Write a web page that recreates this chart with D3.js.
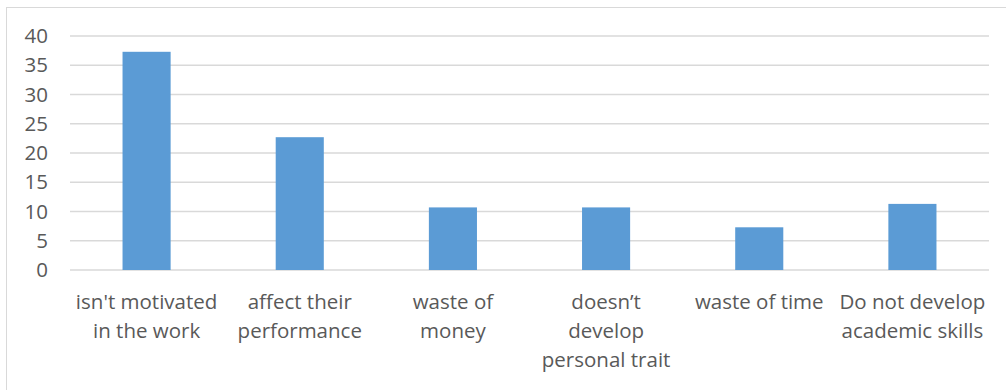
<!DOCTYPE html>
<html><head><meta charset="utf-8">
<script src="https://cdn.jsdelivr.net/npm/d3@7"></script>
<style>html,body{margin:0;padding:0;background:#fff;overflow:hidden}</style>
</head><body>
<svg id="chart" width="1006" height="390"></svg>
<script>
const categories = [
  ["isn't motivated", "in the work"],
  ["affect their", "performance"],
  ["waste of", "money"],
  ["doesn\u2019t", "develop", "personal trait"],
  ["waste of time"],
  ["Do not develop", "academic skills"]
];
const values = [37.3, 22.7, 10.7, 10.7, 7.3, 11.3];
const yTicks = [0, 5, 10, 15, 20, 25, 30, 35, 40];

const svg = d3.select("#chart");
const font = "'Open Sans', sans-serif";
const fontSize = 20.5;
const textColor = "#595959";
const plot = {left: 70, right: 989, top: 36, bottom: 270};

svg.append("rect").attr("x", 6.5).attr("y", 7.5).attr("width", 1020).attr("height", 420)
  .attr("fill", "none").attr("stroke", "#d9d9d9").attr("stroke-width", 1);

const ids = categories.map((c, i) => i);
const x = d3.scaleBand().domain(ids).range([plot.left, plot.right]).paddingInner(0.686).paddingOuter(0.343);
const y = d3.scaleLinear().domain([0, 40]).range([plot.bottom, plot.top]);

// gridlines
svg.append("g").selectAll("line").data(yTicks).join("line")
  .attr("x1", plot.left).attr("x2", plot.right)
  .attr("y1", d => y(d)).attr("y2", d => y(d))
  .attr("stroke", "#d9d9d9").attr("stroke-width", 1.5);

// y axis labels
const yAxis = d3.axisLeft(y).tickValues(yTicks).tickSize(0).tickPadding(0).tickFormat(d3.format("d"));
const yg = svg.append("g").attr("transform", `translate(${plot.left - 22},0)`).call(yAxis);
yg.select(".domain").remove();
yg.selectAll("text").attr("font-family", font).attr("font-size", fontSize).attr("fill", textColor);

// bars
svg.append("g").selectAll("rect").data(values).join("rect")
  .attr("x", (d, i) => x(i)).attr("width", x.bandwidth())
  .attr("y", d => y(d)).attr("height", d => y(0) - y(d))
  .attr("fill", "#5b9bd5");

// x labels
const xAxis = d3.axisBottom(x).tickSize(0).tickPadding(0).tickFormat(() => "");
const xg = svg.append("g").attr("transform", `translate(0,${plot.bottom})`).call(xAxis);
xg.select(".domain").remove();
xg.selectAll(".tick").each(function(i) {
  const t = d3.select(this).append("text")
    .attr("text-anchor", "middle").attr("font-family", font).attr("font-size", fontSize).attr("fill", textColor);
  categories[i].forEach((line, k) => {
    t.append("tspan").attr("x", 0).attr("y", 39 + k * 29.2).text(line);
  });
});
</script>
</body></html>
